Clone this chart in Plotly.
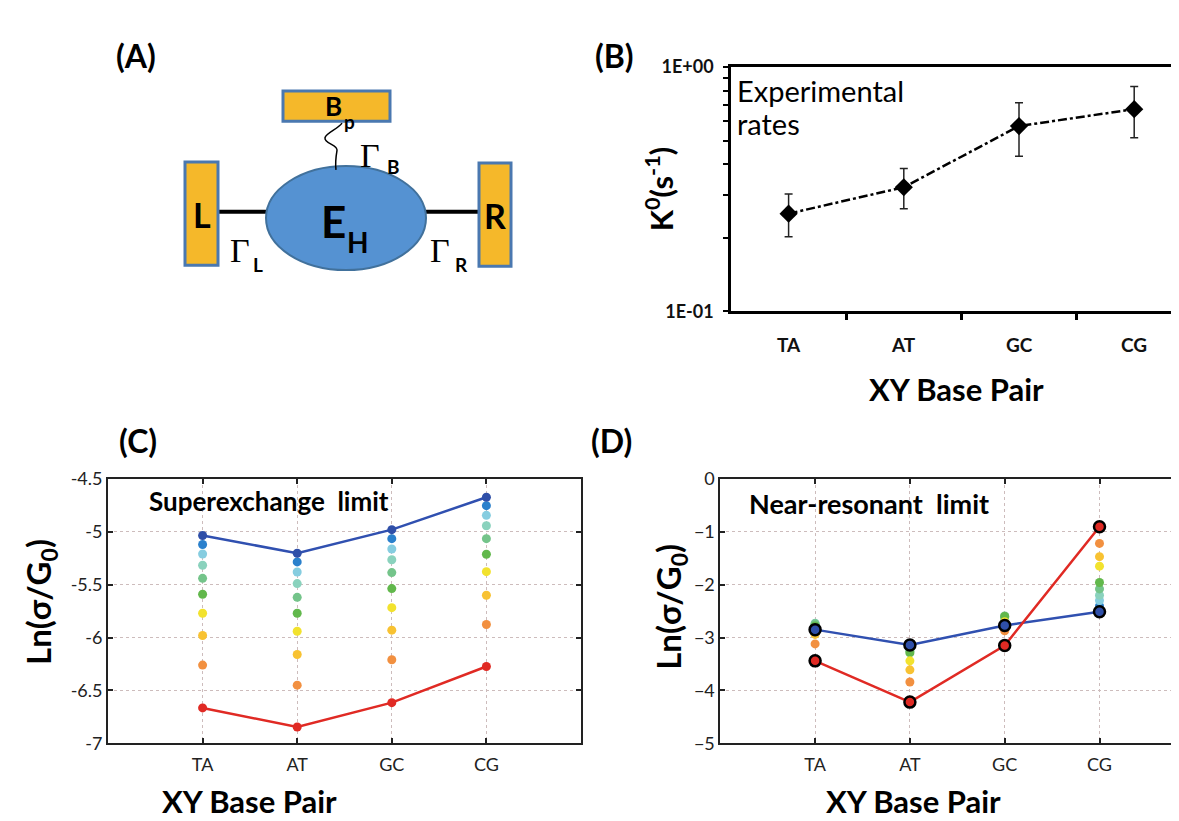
import plotly.graph_objects as go

# ---------------- data ----------------
base_pairs = ["TA", "AT", "GC", "CG"]

# Panel B: experimental rates k0 (s^-1) with asymmetric error bars
k0_rate = [0.251, 0.322, 0.573, 0.672]
k0_upper = [0.302, 0.384, 0.714, 0.832]
k0_lower = [0.202, 0.263, 0.431, 0.513]

# Panel C (superexchange limit): ln(sigma/G0), 10 levels (dark blue -> red) per base pair
sx_TA = [-5.035, -5.12, -5.21, -5.316, -5.44, -5.59, -5.77, -5.98, -6.26, -6.665]
sx_AT = [-5.203, -5.285, -5.38, -5.49, -5.62, -5.77, -5.94, -6.16, -6.45, -6.845]
sx_GC = [-4.98, -5.065, -5.163, -5.264, -5.386, -5.537, -5.717, -5.93, -6.21, -6.615]
sx_CG = [-4.674, -4.753, -4.845, -4.943, -5.065, -5.212, -5.377, -5.60, -5.876, -6.273]

# Panel D (near-resonant limit)
nr_TA = [-2.85, -2.80, -2.76, -2.73, -2.74, -2.78, -2.88, -2.94, -3.12, -3.44]
nr_AT = [-3.14, -3.17, -3.20, -3.23, -3.26, -3.29, -3.44, -3.61, -3.84, -4.22]
nr_GC = [-2.77, -2.72, -2.66, -2.62, -2.59, -2.60, -2.70, -2.80, -2.87, -3.15]
nr_CG = [-2.51, -2.40, -2.30, -2.20, -2.08, -1.96, -1.65, -1.47, -1.22, -0.905]

level_colors = ["#2f4fa8", "#2a80cc", "#86cde0", "#8ad2bd", "#74c48a",
                "#62b84c", "#f2e22e", "#f8c232", "#f29040", "#e02a24"]

FONT = "Lato"
W, H = 1179, 821

fig = go.Figure()

# ---------------- Panel B ----------------
xb = list(range(len(base_pairs)))
fig.add_trace(go.Scatter(
    x=xb, y=k0_rate, mode="lines+markers",
    line=dict(color="black", width=2.5, dash="dashdot"),
    marker=dict(symbol="diamond", size=14, color="black"),
    error_y=dict(type="data", symmetric=False,
                 array=[u - v for u, v in zip(k0_upper, k0_rate)],
                 arrayminus=[v - l for v, l in zip(k0_rate, k0_lower)],
                 color="#222", thickness=1.5, width=4),
    xaxis="x", yaxis="y", showlegend=False, hoverinfo="skip"))

# ---------------- Panel C ----------------
xc = [1, 2, 3, 4]
sx_cols = [sx_TA, sx_AT, sx_GC, sx_CG]
for lev in range(1, 9):
    fig.add_trace(go.Scatter(
        x=xc, y=[col[lev] for col in sx_cols], mode="markers",
        marker=dict(size=9, color=level_colors[lev]),
        xaxis="x2", yaxis="y2", showlegend=False, hoverinfo="skip"))
for lev, lc in [(0, "#3050b0"), (9, "#e02a24")]:
    fig.add_trace(go.Scatter(
        x=xc, y=[col[lev] for col in sx_cols], mode="lines+markers",
        line=dict(color=lc, width=2.5),
        marker=dict(size=9, color=level_colors[lev]),
        xaxis="x2", yaxis="y2", showlegend=False, hoverinfo="skip"))

# ---------------- Panel D ----------------
nr_cols = [nr_TA, nr_AT, nr_GC, nr_CG]
for lev in range(1, 9):
    fig.add_trace(go.Scatter(
        x=xc, y=[col[lev] for col in nr_cols], mode="markers",
        marker=dict(size=9, color=level_colors[lev]),
        xaxis="x3", yaxis="y3", showlegend=False, hoverinfo="skip"))
for lev, lc in [(0, "#3050b0"), (9, "#e02a24")]:
    fig.add_trace(go.Scatter(
        x=xc, y=[col[lev] for col in nr_cols], mode="lines+markers",
        line=dict(color=lc, width=2.5),
        marker=dict(size=11, color=level_colors[lev],
                    line=dict(color="black", width=2.5)),
        xaxis="x3", yaxis="y3", showlegend=False, hoverinfo="skip"))

# ---------------- axes ----------------
def px(x):
    return x / W

def py(y):
    return 1 - y / H

grid_col = "#cdbcbc"
tickfont_cd = dict(family=FONT, size=18, color="#222")

fig.update_layout(
    width=W, height=H, autosize=False,
    margin=dict(l=0, r=0, t=0, b=0),
    paper_bgcolor="white", plot_bgcolor="white",
    font=dict(family=FONT, color="black"),
    xaxis=dict(domain=[px(723), 1.0], range=[-0.5, (W - 723) / 115.2 - 0.5],
               anchor="y", tickmode="array", tickvals=[0.5, 1.5, 2.5, 3.5],
               showticklabels=False,
               ticks="outside", ticklen=6, tickwidth=2.5, tickcolor="black",
               showgrid=False, zeroline=False,
               showline=True, linecolor="black", linewidth=2.5, mirror=True),
    yaxis=dict(domain=[py(299.3), py(48.3)], type="log", range=[-1, 0],
               anchor="x", tickmode="array",
               tickvals=[0.1, 1.0], ticktext=["1E-01", "1E+00"],
               ticks="outside", ticklen=5, tickwidth=2, tickcolor="black",
               minor=dict(tickmode="array",
                          tickvals=[0.2, 0.3, 0.4, 0.5, 0.6, 0.7, 0.8, 0.9],
                          ticks="outside", ticklen=5, tickwidth=2,
                          tickcolor="black", showgrid=False),
               showgrid=False, zeroline=False,
               showline=True, linecolor="black", linewidth=2.5, mirror=False,
               tickfont=dict(family=FONT, size=18, weight="bold", color="#111"),
               ticklabelstandoff=6),
    xaxis2=dict(domain=[px(100), px(573)], range=[0, 5], anchor="y2",
                tickmode="array", tickvals=xc, ticktext=base_pairs,
                ticks="inside", ticklen=5, tickwidth=1.5, tickcolor="#222",
                showgrid=True, gridcolor=grid_col, griddash="dot", gridwidth=1,
                zeroline=False, showline=True, linecolor="#222", linewidth=1.8,
                mirror="allticks", tickfont=tickfont_cd, ticklabelstandoff=4),
    yaxis2=dict(domain=[py(743.3), py(471.5)], range=[-7, -4.5], anchor="x2",
                tickmode="array", tickvals=[-7, -6.5, -6, -5.5, -5, -4.5],
                ticktext=["-7", "-6.5", "-6", "-5.5", "-5", "-4.5"],
                ticks="inside", ticklen=5, tickwidth=1.5, tickcolor="#222",
                showgrid=True, gridcolor=grid_col, griddash="dot", gridwidth=1,
                zeroline=False, showline=True, linecolor="#222", linewidth=1.8,
                mirror="allticks", tickfont=tickfont_cd),
    xaxis3=dict(domain=[px(712.3), 1.0], range=[0, (W - 712.3) / 94.8],
                anchor="y3", tickmode="array", tickvals=xc, ticktext=base_pairs,
                ticks="inside", ticklen=5, tickwidth=1.5, tickcolor="#222",
                showgrid=True, gridcolor=grid_col, griddash="dot", gridwidth=1,
                zeroline=False, showline=True, linecolor="#222", linewidth=1.8,
                mirror="allticks", tickfont=tickfont_cd, ticklabelstandoff=4),
    yaxis3=dict(domain=[py(743.3), py(471.5)], range=[-5, 0], anchor="x3",
                tickmode="array", tickvals=[-5, -4, -3, -2, -1, 0],
                ticks="inside", ticklen=5, tickwidth=1.5, tickcolor="#222",
                showgrid=True, gridcolor=grid_col, griddash="dot", gridwidth=1,
                zeroline=False, showline=True, linecolor="#222", linewidth=1.8,
                mirror=False, tickfont=tickfont_cd),
)

# category labels for panel B (ticks sit between categories, labels at centres)
for i, name in enumerate(base_pairs):
    fig.add_annotation(x=xb[i], xref="x", y=py(333), yref="paper", text=name,
                       showarrow=False, yanchor="middle",
                       font=dict(family=FONT, size=19, weight="bold", color="#111"))

# ---------------- text annotations (paper coords from pixel positions) ----------------
def ann(x, y, text, size, bold=True, family=FONT, textangle=0, xanchor="center",
        color="black"):
    fig.add_annotation(x=px(x), y=py(y), xref="paper", yref="paper", text=text,
                       showarrow=False, textangle=textangle, xanchor=xanchor,
                       yanchor="middle", borderpad=0,
                       font=dict(family=family, size=size, color=color,
                                 weight="bold" if bold else "normal"))

ann(128, 36, "(A)", 32)
ann(606, 36, "(B)", 32)
ann(130, 432, "(C)", 32)
ann(603, 432, "(D)", 32)

ann(728, 72, "Experimental", 29, bold=False, xanchor="left")
ann(728, 106, "rates", 29, bold=False, xanchor="left")
ann(651, 174, "K<sup>0</sup>(s<sup>-1</sup>)", 31, textangle=-90)
ann(948, 379, "XY Base Pair", 31)

ann(140, 494, "Superexchange  limit", 26, xanchor="left")
ann(33, 598, "Ln(σ/G<sub>0</sub>)", 33, textangle=-90)
ann(241, 802, "XY Base Pair", 31)

ann(740, 497, "Near-resonant  limit", 27, xanchor="left")
ann(663, 603, "Ln(σ/G<sub>0</sub>)", 33, textangle=-90)
ann(905, 802, "XY Base Pair", 31)

# ---------------- Panel A diagram (illustration, pixel positions -> paper) ----------------
gold = "#f5b82a"
edge = "#4a78b0"

def rect(x0, y0, x1, y1, fill, lc, lw, kind="rect"):
    fig.add_shape(type=kind, xref="paper", yref="paper",
                  x0=px(x0), y0=py(y1), x1=px(x1), y1=py(y0),
                  fillcolor=fill, line=dict(color=lc, width=lw), layer="above")

def seg(x0, y0, x1, y1, lw):
    fig.add_shape(type="line", xref="paper", yref="paper",
                  x0=px(x0), y0=py(y0), x1=px(x1), y1=py(y1),
                  line=dict(color="black", width=lw), layer="above")

seg(208, 197, 262, 197, 4)
seg(414, 197, 472, 197, 4)
rect(275, 73, 382, 104, gold, edge, 3)
rect(177, 146, 210, 252, gold, edge, 3)
rect(471, 147, 503, 253, gold, edge, 3)
rect(258, 150, 418, 257, "#5592d2", "#41719c", 2, kind="circle")

wave_pts = [(334, 106), (330, 112), (318, 116), (317, 121), (316, 127), (330, 128),
            (329, 134), (328, 140), (327, 146), (328, 154)]
p = "M {:.5f} {:.5f}".format(px(wave_pts[0][0]), py(wave_pts[0][1]))
for i in range(1, len(wave_pts), 3):
    a, b, c = wave_pts[i:i + 3]
    p += " C {:.5f} {:.5f}, {:.5f} {:.5f}, {:.5f} {:.5f}".format(
        px(a[0]), py(a[1]), px(b[0]), py(b[1]), px(c[0]), py(c[1]))
fig.add_shape(type="path", xref="paper", yref="paper", path=p,
              line=dict(color="black", width=1.5), layer="above")

ann(325, 88, "B", 26)
ann(341, 104, "p", 19)
ann(194, 200, "L", 34)
ann(487, 201, "R", 34)
ann(325, 207, "E", 44)
ann(350, 228, "H", 28)
ann(362, 139, "Γ", 34, bold=False, family="Liberation Serif")
ann(385, 151, "B", 19)
ann(232, 237, "Γ", 34, bold=False, family="Liberation Serif")
ann(250, 251, "L", 19)
ann(432, 237, "Γ", 34, bold=False, family="Liberation Serif")
ann(453, 251, "R", 19)

fig.write_html("out.html")
